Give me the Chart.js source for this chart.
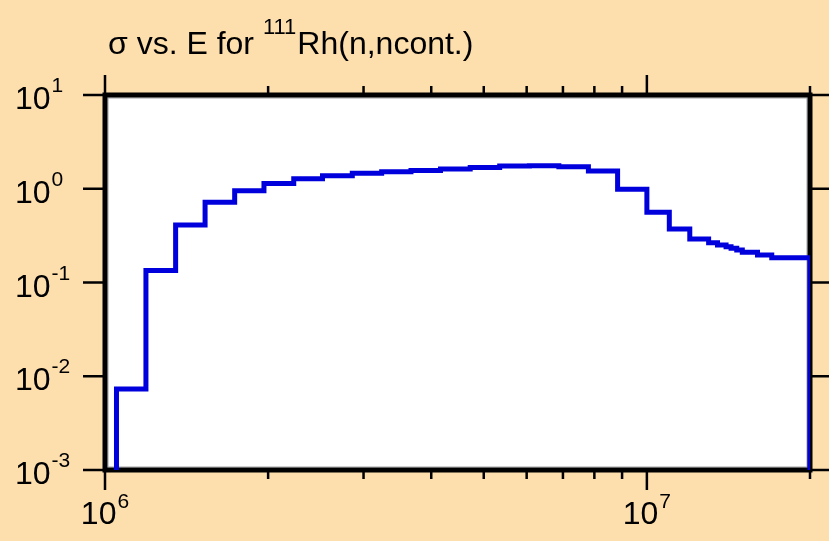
<!DOCTYPE html>
<html>
<head>
<meta charset="utf-8">
<script src="https://cdn.jsdelivr.net/npm/chart.js@4/dist/chart.umd.min.js"></script>
<style>
  html, body { margin: 0; padding: 0; background: #FDDEAD; }
  canvas { display: block; }
</style>
</head>
<body>
<canvas id="sigmaChart" width="829" height="541"></canvas>
<script>
// --- Data (energy in eV, cross section in b) ---
// group boundaries; the last entry is the upper edge of the last group
const binEdges = [
	1.05e6, 1.19e6, 1.35e6, 1.53e6, 1.735e6, 1.965e6, 2.23e6, 2.52e6, 2.86e6,
	3.24e6, 3.67e6, 4.16e6, 4.72e6, 5.35e6, 6.07e6, 6.88e6, 7.8e6, 8.83e6,
	1.0e7, 1.1e7, 1.2e7, 1.3e7, 1.35e7, 1.4e7, 1.43e7, 1.465e7, 1.5e7,
	1.6e7, 1.7e7, 2.0e7,
];
const sigma = [
	0.0073, 0.134, 0.41, 0.717, 0.953, 1.14, 1.28, 1.38, 1.46, 1.52, 1.57,
	1.62, 1.69, 1.75, 1.76, 1.72, 1.55, 0.99, 0.56, 0.372, 0.291, 0.266,
	0.251, 0.241, 0.232, 0.222, 0.21, 0.197, 0.184,
];

// axis ranges and ticks
const xRange = [1e6, 2e7];
const yRange = [1e-3, 1e1];
const xMajorTicks = [1e6, 1e7];
const xMinorTicks = [2e6, 3e6, 4e6, 5e6, 6e6, 7e6, 8e6, 9e6, 2e7];
const xTickExp = ["6", "7"];
const yTicks = [1e-3, 1e-2, 1e-1, 1e0, 1e1];
const yTickExp = ["-3", "-2", "-1", "0", "1"];

const titleParts = ["\u03c3 vs. E for ", "111", "Rh(n,ncont.)"];

const FONT = '"Liberation Sans", Arial, Helvetica, sans-serif';

// step line: rises from the floor at the first edge, drops back at the last
const points = [{ x: binEdges[0], y: yRange[0] }];
sigma.forEach((s, i) => points.push({ x: binEdges[i], y: s }));
points.push({ x: binEdges[binEdges.length - 1], y: yRange[0] });

// --- frame, ticks, labels and title drawn from the chart's own scales ---
const framePlugin = {
	id: "frame",
	beforeDatasetsDraw(chart) {
		const { ctx, chartArea: a, scales } = chart;
		const xs = scales.x, ys = scales.y;
		ctx.save();
		ctx.fillStyle = "#ffffff";
		ctx.fillRect(a.left, a.top, a.right - a.left, a.bottom - a.top);

		// thin grey inner line, then heavy black frame
		ctx.strokeStyle = "#a0a0a0";
		ctx.lineWidth = 1;
		ctx.strokeRect(a.left + 3, a.top + 3, a.right - a.left - 6, a.bottom - a.top - 6);
		ctx.strokeStyle = "#000000";
		ctx.lineWidth = 5;
		ctx.strokeRect(a.left, a.top, a.right - a.left, a.bottom - a.top);

		// ticks
		ctx.lineWidth = 2.5;
		ctx.beginPath();
		yTicks.forEach((v) => {
			const y = ys.getPixelForValue(v);
			ctx.moveTo(a.left - 22, y); ctx.lineTo(a.left, y);
			ctx.moveTo(a.right, y); ctx.lineTo(a.right + 20, y);
		});
		xMajorTicks.forEach((v) => {
			const x = xs.getPixelForValue(v);
			ctx.moveTo(x, a.bottom); ctx.lineTo(x, a.bottom + 20);
			ctx.moveTo(x, a.top); ctx.lineTo(x, a.top - 20);
		});
		xMinorTicks.forEach((v) => {
			const x = xs.getPixelForValue(v);
			ctx.moveTo(x, a.bottom); ctx.lineTo(x, a.bottom + 9);
			ctx.moveTo(x, a.top); ctx.lineTo(x, a.top - 9);
		});
		ctx.stroke();

		// tick labels "10" with superscript exponent
		ctx.fillStyle = "#000000";
		ctx.textBaseline = "alphabetic";
		ctx.textAlign = "left";
		const big = "32px " + FONT, small = "21px " + FONT;
		yTicks.forEach((v, i) => {
			const y = ys.getPixelForValue(v);
			ctx.font = big;
			ctx.fillText("10", 15, y + 14);
			const w = ctx.measureText("10").width;
			ctx.font = small;
			ctx.fillText(yTickExp[i], 15 + w + 1, y - 3);
		});
		xMajorTicks.forEach((v, i) => {
			const x = xs.getPixelForValue(v);
			ctx.font = big;
			const w1 = ctx.measureText("10").width;
			ctx.font = small;
			const w2 = ctx.measureText(xTickExp[i]).width;
			const x0 = x - (w1 + w2 + 1) / 2;
			ctx.font = big;
			ctx.fillText("10", x0, a.bottom + 54);
			ctx.font = small;
			ctx.fillText(xTickExp[i], x0 + w1 + 1, a.bottom + 38);
		});

		// title with superscript mass number
		let tx = 108;
		const ty = 54;
		ctx.font = "32px " + FONT;
		ctx.fillText(titleParts[0], tx, ty);
		tx += ctx.measureText(titleParts[0]).width;
		ctx.font = "22px " + FONT;
		ctx.fillText(titleParts[1], tx, ty - 20);
		tx += ctx.measureText(titleParts[1]).width + 1;
		ctx.font = "32px " + FONT;
		ctx.fillText(titleParts[2], tx, ty);
		ctx.restore();
	},
};

const ctx = document.getElementById("sigmaChart").getContext("2d");
new Chart(ctx, {
	type: "line",
	data: {
		datasets: [
			{
				data: points,
				stepped: "before",
				borderColor: "#0000dd",
				borderWidth: 5,
				borderJoinStyle: "miter",
				borderCapStyle: "butt",
				pointRadius: 0,
				fill: false,
				clip: 0,
			},
		],
	},
	options: {
		responsive: false,
		animation: false,
		devicePixelRatio: 1,
		events: [],
		layout: { padding: { left: 105, top: 95, right: 19, bottom: 71 } },
		scales: {
			x: { type: "logarithmic", min: xRange[0], max: xRange[1], display: false },
			y: { type: "logarithmic", min: yRange[0], max: yRange[1], display: false },
		},
		plugins: {
			legend: { display: false },
			tooltip: { enabled: false },
			title: { display: false },
		},
	},
	plugins: [framePlugin],
});
</script>
</body>
</html>
